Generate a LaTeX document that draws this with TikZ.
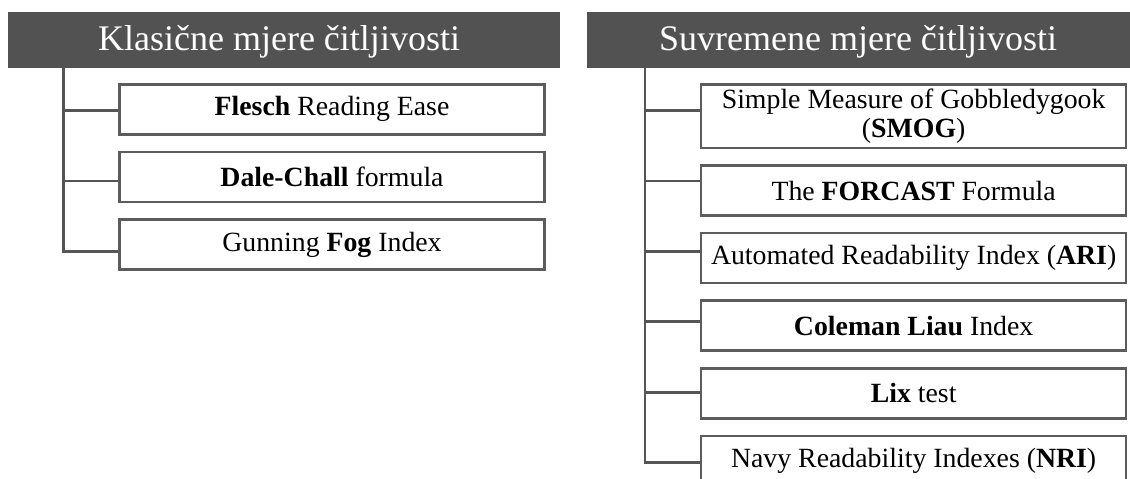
\documentclass[tikz,border=0pt]{standalone}
\usepackage{fontspec}
\setmainfont{Liberation Serif}
\definecolor{hdrgray}{HTML}{525252}
\definecolor{boxgray}{HTML}{5C5C5C}
\definecolor{linegray}{HTML}{555555}
\begin{document}
\begin{tikzpicture}[x=1pt,y=-1pt,
  hdr/.style={fill=hdrgray, draw=none, minimum height=56pt, inner sep=0pt, anchor=north west},
  htext/.style={text=white, font=\fontsize{36}{40}\selectfont, inner sep=0pt},
  item/.style={draw=boxgray, line width=2.5pt, fill=white, minimum width=425pt, minimum height=50pt, inner sep=0pt, font=\fontsize{27.8}{28.5}\selectfont, align=center},
  conn/.style={draw=linegray, line width=2.8pt}]
\useasboundingbox (0,0) rectangle (1130,479);
\clip (0,0) rectangle (1130,479);
% headers
\node[hdr, minimum width=552pt] (h1bg) at (8,12) {};
\node[hdr, minimum width=550pt] (h2bg) at (587,12) {};
\node[htext] (h1) at (279,41.5) {Klasične mjere čitljivosti};
\node[htext] (h2) at (858,41.5) {Suvremene mjere čitljivosti};
% left boxes
\node[item] (L1) at (332,109.35) {\textbf{Flesch} Reading Ease};
\node[item] (L2) at (332,176.95) {\textbf{Dale-Chall} formula};
\node[item] (L3) at (332,244.55) {Gunning \textbf{Fog} Index};
% right boxes
\node[item, minimum height=63.5pt] (R1) at (913.65,116.3) {Simple Measure of Gobbledygook\\(\textbf{SMOG})};
\node[item] (R2) at (913.65,190.5) {The \textbf{FORCAST} Formula};
\node[item] (R3) at (913.65,258.1) {Automated Readability Index (\textbf{ARI})};
\node[item] (R4) at (913.65,325.7) {\textbf{Coleman Liau} Index};
\node[item] (R5) at (913.65,393.3) {\textbf{Lix} test};
\node[item] (R6) at (913.65,460.9) {Navy Readability Indexes (\textbf{NRI})};
% junctions
\coordinate (jL1) at (63.3,110.7);
\coordinate (jL2) at (63.3,181);
\coordinate (jL3) at (63.3,251.3);
\coordinate (jR1) at (645,110.7);
\coordinate (jR2) at (645,181);
\coordinate (jR3) at (645,251.7);
\coordinate (jR4) at (645,321.7);
\coordinate (jR5) at (645,392.7);
\coordinate (jR6) at (645,462.7);
% left connectors
\draw[conn] (jL1 |- h1bg.south) -- (jL3) -- (L3.west |- jL3);
\draw[conn] (jL1) -- (L1.west |- jL1);
\draw[conn] (jL2) -- (L2.west |- jL2);
% right connectors
\draw[conn] (jR1 |- h2bg.south) -- (jR6) -- (R6.west |- jR6);
\draw[conn] (jR1) -- (R1.west |- jR1);
\draw[conn] (jR2) -- (R2.west |- jR2);
\draw[conn] (jR3) -- (R3.west |- jR3);
\draw[conn] (jR4) -- (R4.west |- jR4);
\draw[conn] (jR5) -- (R5.west |- jR5);
\end{tikzpicture}
\end{document}
